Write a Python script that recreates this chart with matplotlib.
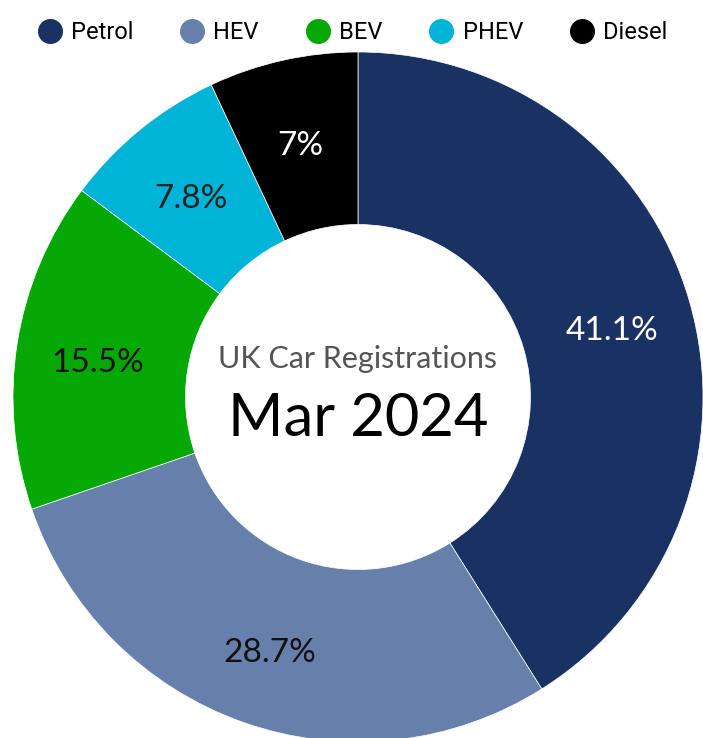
import numpy as np
import matplotlib
matplotlib.use("Agg")
import matplotlib.pyplot as plt
from matplotlib.lines import Line2D

# data
fuels = ["Petrol", "HEV", "BEV", "PHEV", "Diesel"]
shares = [41.1, 28.7, 15.5, 7.8, 7.0]
labels = ["41.1%", "28.7%", "15.5%", "7.8%", "7%"]
colors = ["#1a3263", "#6780ab", "#05a805", "#00b4d8", "#000000"]
label_colors = ["white", "#111111", "#111111", "#222222", "white"]

W, H = 703, 738
cx, cy, R = 358, 397, 345   # pixel centre / radius of the donut

fig = plt.figure(figsize=(W / 100, H / 100), dpi=100)
ax = fig.add_axes([0, 0, 1, 1])

wedges, _ = ax.pie(shares, colors=colors, startangle=90, counterclock=False,
                   radius=1.0, wedgeprops=dict(width=0.5, linewidth=0.5, edgecolor="white"))
ax.set_xlim(-cx / R, (W - cx) / R)
ax.set_ylim(-(H - cy) / R, cy / R)
ax.set_aspect("equal")
ax.axis("off")

# percentage labels at the middle of each ring segment
total = sum(shares)
start = 90.0
for s, lab, c in zip(shares, labels, label_colors):
    mid = np.deg2rad(start - 360 * s / total / 2)
    start -= 360 * s / total
    ax.text(0.765 * np.cos(mid), 0.765 * np.sin(mid) - 0.02, lab, ha="center", va="center",
            fontsize=24, color=c, family="Lato", fontweight="normal")

# centre text
ax.text(0, 0.11, "UK Car Registrations", ha="center", va="center",
        fontsize=22, color="#555555", family="Lato", fontweight="normal")
ax.text(0, -0.065, "Mar 2024", ha="center", va="center",
        fontsize=43, color="black", family="Lato", fontweight="normal")

handles = [Line2D([], [], marker="o", linestyle="", markersize=17,
                  markerfacecolor=c, markeredgecolor=c) for c in colors]
leg = fig.legend(handles, fuels, loc="upper center", bbox_to_anchor=(0.5, 1.0),
                 ncol=5, frameon=False, handletextpad=0.3, columnspacing=1.9,
                 handlelength=1.2, prop=dict(family="Roboto", size=17))

fig.savefig("out.png", dpi=100)
